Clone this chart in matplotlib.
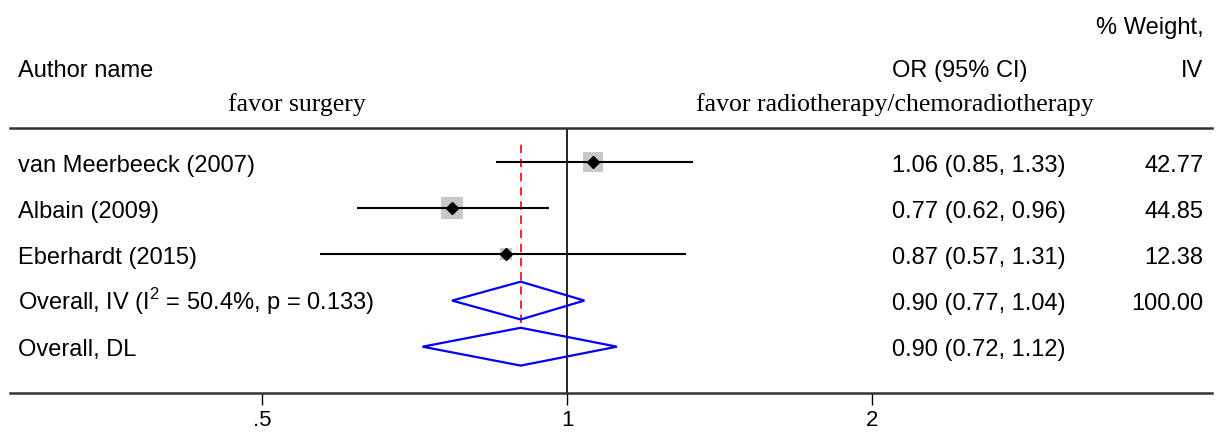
import matplotlib
matplotlib.use("Agg")
import matplotlib.pyplot as plt
from matplotlib.ticker import NullLocator

plt.rcParams['font.family'] = ['Liberation Sans', 'DejaVu Sans']
plt.rcParams['mathtext.fontset'] = 'custom'
plt.rcParams['mathtext.rm'] = 'Liberation Sans'

# study level data
authors = ["van Meerbeeck (2007)", "Albain (2009)", "Eberhardt (2015)"]
or_est = [1.06, 0.77, 0.87]
ci_lo = [0.85, 0.62, 0.57]
ci_hi = [1.33, 0.96, 1.31]
weights = [42.77, 44.85, 12.38]

# pooled estimates
pooled_names = ["Overall, IV (I$^\\mathrm{2}$ = 50.4%, p = 0.133)", "Overall, DL"]
pooled_est = [0.90, 0.90]
pooled_lo = [0.77, 0.72]
pooled_hi = [1.04, 1.12]
pooled_weight = ["100.00", ""]

xticks = [0.5, 1, 2]
xticklabels = [".5", "1", "2"]

fs = 17
fig = plt.figure(figsize=(12.23, 4.34), dpi=100)
ax = fig.add_axes([0, 0, 1, 1])
ax.set_xscale('log', base=2)
ax.set_xlim(0.2756, 4.44)
ax.set_ylim(-0.894, 8.52)

rows = [5, 4, 3]
prow = [2, 1]
tr = ax.get_yaxis_transform()

# study rows
for i in range(len(authors)):
	y = rows[i]
	ax.hlines(y, ci_lo[i], ci_hi[i], color='black', lw=1.5, zorder=3)
	side = 3.14 * weights[i] ** 0.5 * 0.72
	ax.scatter([or_est[i]], [y], marker='s', s=side ** 2, color='#c8c8c8', lw=0, zorder=2)
	ax.plot([or_est[i]], [y], marker='D', ms=6.5, color='black', zorder=4)
	ax.text(0.0147, y - 0.21, authors[i], transform=tr, fontsize=fs, va='baseline')
	ax.text(0.729, y - 0.21, "%.2f (%.2f, %.2f)" % (or_est[i], ci_lo[i], ci_hi[i]),
		transform=tr, fontsize=fs, va='baseline')
	ax.text(0.984, y - 0.21, "%.2f" % weights[i], transform=tr, fontsize=fs,
		va='baseline', ha='right')

# pooled diamonds
h = 0.41
for i in range(len(pooled_names)):
	y = prow[i]
	ax.fill([pooled_lo[i], pooled_est[i], pooled_hi[i], pooled_est[i]],
		[y, y + h, y, y - h], fill=False, edgecolor='#0000ff', lw=1.6, zorder=3)
	ax.text(0.0147, y - 0.21, pooled_names[i], transform=tr, fontsize=fs, va='baseline')
	ax.text(0.729, y - 0.21, "%.2f (%.2f, %.2f)" % (pooled_est[i], pooled_lo[i], pooled_hi[i]),
		transform=tr, fontsize=fs, va='baseline')
	ax.text(0.984, y - 0.21, pooled_weight[i], transform=tr, fontsize=fs,
		va='baseline', ha='right')

# reference lines
ax.vlines(1, 0, 5.74, color='black', lw=1.2, zorder=1)
ax.vlines(pooled_est[0], 1.51, 5.5, color='red', lw=1.2, linestyles=(0, (5, 3.5)), zorder=1)
ax.axhline(5.74, xmin=10 / 1223, xmax=1212 / 1223, color='#333333', lw=1.8)

# headers
ax.text(0.984, 7.78, "% Weight,", transform=tr, fontsize=fs, ha='right', va='baseline')
ax.text(0.0147, 6.86, "Author name", transform=tr, fontsize=fs, va='baseline')
ax.text(0.840, 6.86, "OR (95% CI)", transform=tr, fontsize=fs, ha='right', va='baseline')
ax.text(0.984, 6.86, "IV", transform=tr, fontsize=fs, ha='right', va='baseline')
ax.text(0.243, 6.12, "favor surgery", transform=tr, fontsize=18.5, ha='center',
	va='baseline', family='Liberation Serif')
ax.text(0.732, 6.12, "favor radiotherapy/chemoradiotherapy", transform=tr, fontsize=18.5,
	ha='center', va='baseline', family='Liberation Serif')

# axis
for s in ['left', 'right', 'top']:
	ax.spines[s].set_visible(False)
ax.spines['bottom'].set_position(('data', 0))
ax.spines['bottom'].set_bounds(0.2817, 4.33)
ax.spines['bottom'].set_linewidth(1.8)
ax.spines['bottom'].set_color('#333333')
ax.set_xticks(xticks)
ax.set_xticklabels(xticklabels)
ax.xaxis.set_minor_locator(NullLocator())
ax.tick_params(axis='x', length=8.6, width=1.0, pad=4, labelsize=16)
ax.set_yticks([])

fig.savefig("out.png", dpi=100)
